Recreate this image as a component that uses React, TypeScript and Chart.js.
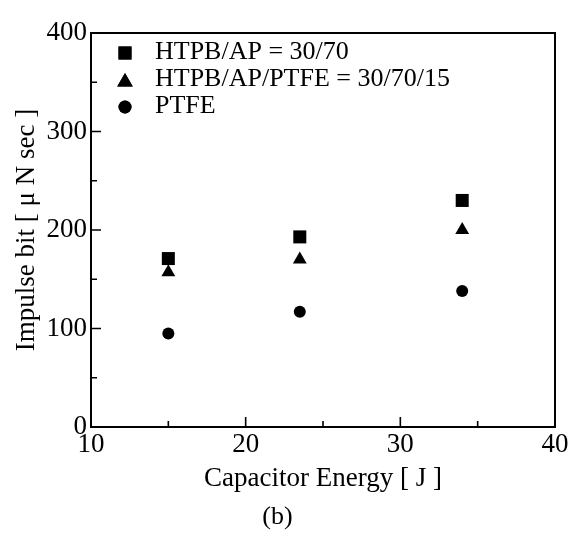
import React, { useEffect, useRef } from "react";
import { Chart, registerables } from "chart.js";
import { drawPoint } from "chart.js/helpers";

Chart.register(...registerables);

// ---- data ----
const energyJ = [15, 23.5, 34];
const htpbAp = [171, 193, 230];
const htpbApPtfe = [157, 170, 200];
const ptfe = [95, 117, 138];
const seriesLabels = ["HTPB/AP = 30/70", "HTPB/AP/PTFE = 30/70/15", "PTFE"];
const xMajorTicks = [10, 20, 30, 40];
const xMinorTicks = [15, 25, 35];
const yMajorTicks = [0, 100, 200, 300, 400];
const yMinorTicks = [50, 150, 250, 350];

const FONT = "'Liberation Serif', 'DejaVu Serif', serif";

const frameAndTicks = {
  id: "frameAndTicks",
  afterDraw(chart: any) {
    const { ctx, chartArea: a, scales } = chart;
    const x = scales.x;
    const y = scales.y;
    ctx.save();
    ctx.strokeStyle = "#000";
    ctx.lineWidth = 2;
    ctx.strokeRect(a.left, a.top, a.right - a.left, a.bottom - a.top);
    ctx.lineWidth = 1.6;
    ctx.beginPath();
    xMajorTicks.forEach((v) => {
      const px = x.getPixelForValue(v);
      ctx.moveTo(px, a.bottom);
      ctx.lineTo(px, a.bottom - 10);
    });
    xMinorTicks.forEach((v) => {
      const px = x.getPixelForValue(v);
      ctx.moveTo(px, a.bottom);
      ctx.lineTo(px, a.bottom - 6);
    });
    yMajorTicks.forEach((v) => {
      const py = y.getPixelForValue(v);
      ctx.moveTo(a.left, py);
      ctx.lineTo(a.left + 10, py);
    });
    yMinorTicks.forEach((v) => {
      const py = y.getPixelForValue(v);
      ctx.moveTo(a.left, py);
      ctx.lineTo(a.left + 6, py);
    });
    ctx.stroke();
    ctx.restore();
  },
};

const innerLegend = {
  id: "innerLegend",
  afterDatasetsDraw(chart: any) {
    const { ctx, chartArea: a } = chart;
    ctx.save();
    ctx.fillStyle = "#000";
    ctx.strokeStyle = "#000";
    ctx.font = `26px ${FONT}`;
    ctx.textBaseline = "alphabetic";
    ctx.textAlign = "left";
    chart.data.datasets.forEach((ds: any, i: number) => {
      const baseline = a.top + 26 + i * 27;
      const mx = a.left + 34;
      drawPoint(
        ctx,
        {
          pointStyle: ds.pointStyle,
          radius: ds.pointStyle === "triangle" ? 9 : ds.pointStyle === "rect" ? 9.2 : 6.5,
          rotation: 0,
          borderWidth: 0,
        } as any,
        mx,
        baseline - (ds.pointStyle === "triangle" ? 4 : 6)
      );
      ctx.fill();
      ctx.fillText(ds.label, a.left + 64, baseline);
    });
    ctx.restore();
  },
};

export default function App() {
  const ref = useRef<HTMLCanvasElement | null>(null);

  useEffect(() => {
    document.body.style.margin = "0";
    const canvas = ref.current;
    if (!canvas) return;
    const mk = (label: string, ys: number[], style: string, r: number) => ({
      label,
      data: energyJ.map((e, i) => ({ x: e, y: ys[i] })),
      pointStyle: style,
      pointRadius: r,
      pointHoverRadius: r,
      backgroundColor: "#000",
      borderColor: "#000",
      borderWidth: 0,
      showLine: false,
    });
    const chart = new Chart(canvas, {
      type: "scatter",
      data: {
        datasets: [
          mk(seriesLabels[0], htpbAp, "rect", 9.2),
          mk(seriesLabels[1], htpbApPtfe, "triangle", 8),
          mk(seriesLabels[2], ptfe, "circle", 6),
        ] as any,
      },
      options: {
        animation: false,
        responsive: false,
        devicePixelRatio: 1,
        layout: { padding: { top: 33, right: 19, left: 0, bottom: 0 } },
        plugins: {
          legend: { display: false },
          tooltip: { enabled: false },
          title: {
            display: true,
            position: "bottom",
            text: "(b)",
            color: "#000",
            font: { family: FONT, size: 26, weight: "normal" },
            padding: { top: 0, bottom: 0 },
          },
        },
        scales: {
          x: {
            type: "linear",
            min: 10,
            max: 40,
            ticks: {
              stepSize: 10,
              color: "#000",
              padding: 2,
              font: { family: FONT, size: 27 },
              maxRotation: 0,
            },
            grid: { display: false, drawTicks: false, tickLength: 0 },
            border: { display: false },
            title: {
              display: true,
              text: "Capacitor Energy [ J ]",
              color: "#000",
              font: { family: FONT, size: 27 },
              padding: { top: 0, bottom: 7 },
            },
            afterFit(scale: any) {
              scale.height = 74.8;
            },
          },
          y: {
            type: "linear",
            min: 0,
            max: 400,
            ticks: {
              stepSize: 100,
              color: "#000",
              padding: 4,
              font: { family: FONT, size: 27 },
            },
            grid: { display: false, drawTicks: false, tickLength: 0 },
            border: { display: false },
            title: {
              display: true,
              text: "Impulse bit [ μ N sec ]",
              color: "#000",
              font: { family: FONT, size: 27 },
              padding: { top: 11, bottom: 0 },
            },
            afterFit(scale: any) {
              scale.width = 91;
            },
          },
        },
      },
      plugins: [frameAndTicks, innerLegend],
    } as any);
    return () => chart.destroy();
  }, []);

  return (
    <div style={{ width: 574, height: 533, background: "#fff" }}>
      <canvas ref={ref} width={574} height={533} style={{ display: "block" }} />
    </div>
  );
}
